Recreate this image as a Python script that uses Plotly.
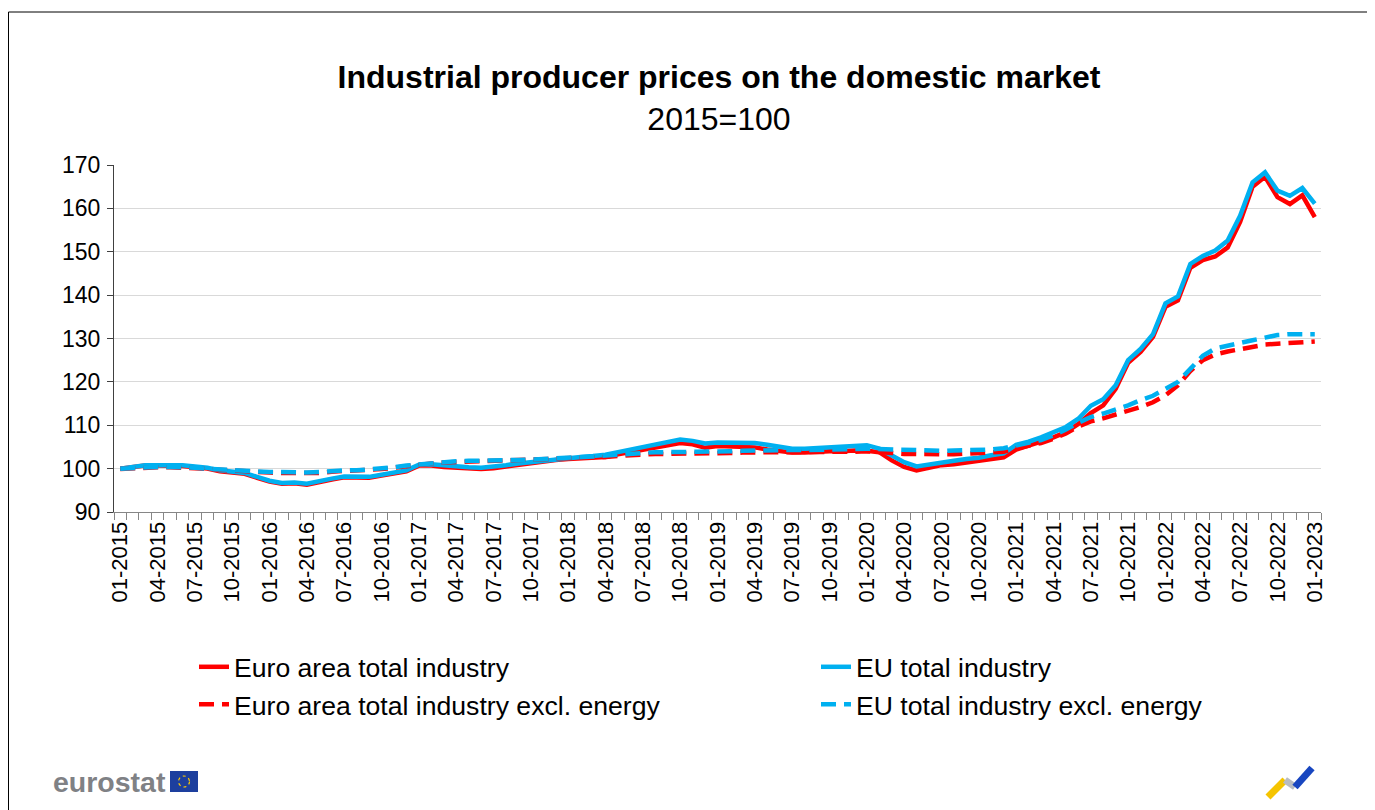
import plotly.graph_objects as go

# ---------------- data ----------------
months = [f"{m:02d}-{y}" for y in range(2015, 2023) for m in range(1, 13)] + ["01-2023"]

ea_total = [100.0, 100.4, 100.7, 100.7, 100.7, 100.6, 100.3, 100.0, 99.4, 99.2, 98.8, 97.9,
            97.0, 96.5, 96.6, 96.3, 97.0, 97.5, 98.0, 97.9, 97.9, 98.4, 98.8, 99.4,
            100.7, 100.7, 100.4, 100.2, 100.0, 99.9, 100.1, 100.5, 100.9, 101.3, 101.7, 102.0,
            102.2, 102.4, 102.5, 102.7, 103.3, 103.8, 104.4, 104.8, 105.4, 105.9, 105.6, 104.8,
            105.2, 105.1, 105.1, 104.9, 104.4, 104.1, 103.7, 103.7, 103.9, 104.0, 104.0, 104.2,
            104.1, 103.8, 101.9, 100.4, 99.6, 100.2, 100.8, 101.0, 101.4, 101.7, 102.0, 102.6,
            104.4, 105.2, 106.2, 107.2, 108.4, 110.3, 112.8, 114.6, 118.4, 124.4, 126.9, 130.4,
            137.3, 138.8, 146.3, 148.1, 148.9, 151.0, 156.9, 165.0, 167.3, 162.6, 161.0, 163.0,
            158.0]

eu_total = [100.0, 100.5, 100.8, 100.8, 100.8, 100.8, 100.5, 100.2, 99.6, 99.4, 99.0, 98.1,
            97.2, 96.7, 96.8, 96.5, 97.2, 97.7, 98.2, 98.1, 98.1, 98.6, 99.0, 99.6,
            100.9, 101.0, 100.8, 100.5, 100.3, 100.2, 100.4, 100.8, 101.2, 101.5, 101.9, 102.3,
            102.5, 102.7, 102.9, 103.2, 103.8, 104.4, 105.0, 105.4, 106.0, 106.7, 106.4, 105.8,
            106.0, 106.0, 105.9, 105.9, 105.5, 105.0, 104.6, 104.6, 104.8, 104.9, 105.0, 105.2,
            105.4, 104.6, 103.1, 101.5, 100.5, 101.0, 101.5, 101.8, 102.2, 102.5, 103.1, 103.5,
            105.5, 106.2, 107.2, 108.3, 109.6, 111.5, 114.5, 116.0, 119.2, 125.0, 127.6, 131.0,
            138.1, 139.7, 147.2, 149.0, 150.3, 152.6, 158.3, 166.0, 168.3, 164.1, 162.9, 164.7,
            161.1]

ea_excl_energy = [99.9, 100.1, 100.2, 100.3, 100.3, 100.3, 100.1, 99.9, 99.7, 99.5, 99.5, 99.3,
                  99.1, 99.0, 99.0, 98.9, 99.0, 99.3, 99.4, 99.5, 99.7, 99.9, 100.2, 100.6,
                  100.9, 101.2, 101.4, 101.5, 101.6, 101.6, 101.6, 101.7, 101.8, 101.9, 102.0, 102.1,
                  102.3, 102.4, 102.5, 102.7, 102.9, 103.1, 103.3, 103.4, 103.4, 103.4, 103.4, 103.4,
                  103.5, 103.6, 103.7, 103.8, 103.8, 103.8, 103.8, 103.8, 103.7, 103.7, 103.8, 103.9,
                  104.0, 103.9, 103.6, 103.4, 103.3, 103.3, 103.3, 103.3, 103.4, 103.5, 103.6, 103.9,
                  104.6, 105.2, 105.9, 106.9, 108.1, 109.7, 110.9, 111.6, 112.4, 113.3, 114.2, 115.3,
                  116.9, 119.2, 122.5, 125.0, 126.3, 127.0, 127.6, 128.1, 128.6, 128.8, 129.0, 129.2,
                  129.3]

eu_excl_energy = [100.0, 100.2, 100.3, 100.4, 100.4, 100.4, 100.2, 100.0, 99.8, 99.6, 99.6, 99.4,
                  99.2, 99.2, 99.1, 99.1, 99.2, 99.5, 99.6, 99.6, 99.8, 100.0, 100.3, 100.7,
                  101.0, 101.3, 101.5, 101.7, 101.8, 101.8, 101.8, 101.9, 102.0, 102.1, 102.2, 102.3,
                  102.5, 102.7, 102.8, 103.0, 103.2, 103.5, 103.7, 103.8, 103.8, 103.8, 103.8, 103.8,
                  103.9, 104.0, 104.1, 104.2, 104.3, 104.3, 104.3, 104.3, 104.3, 104.3, 104.4, 104.5,
                  104.6, 104.5, 104.3, 104.2, 104.1, 104.1, 104.1, 104.2, 104.2, 104.3, 104.4, 104.7,
                  105.3, 105.8, 106.6, 107.7, 109.0, 110.6, 111.9, 112.7, 113.6, 114.6, 115.8, 116.8,
                  118.4, 120.0, 123.0, 126.0, 127.7, 128.4, 129.0, 129.6, 130.2, 130.8, 131.0, 131.0,
                  131.0]

series_names = ["Euro area total industry", "EU total industry",
                "Euro area total industry excl. energy", "EU total industry excl. energy"]
y_ticks = [90, 100, 110, 120, 130, 140, 150, 160, 170]

# ---------------- layout geometry ----------------
# the page body has an 8px margin, so the figure is drawn 8px in from the window edge
OFF = 8
W, H = 1375 - OFF, 810 - OFF
L, R, T, B = 114 - OFF, 54, 165 - OFF, 298
PW, PH = W - L - R, H - T - B
FONT = "Liberation Sans, Arial, sans-serif"
RED = "#FF0000"
BLUE = "#00B0F0"


def px(x):  # window x -> paper x
    return (x - OFF - L) / PW


def py(y):  # window y -> paper y
    return (H - B - (y - OFF)) / PH


x_idx = list(range(len(months)))

fig = go.Figure()
styles = [(ea_total, RED, "solid", "legend"), (eu_total, BLUE, "solid", "legend2"),
          (ea_excl_energy, RED, "15px,8px", "legend"), (eu_excl_energy, BLUE, "15px,8px", "legend2")]
for name, (vals, col, dash, leg) in zip(series_names, styles):
    fig.add_trace(go.Scatter(x=x_idx, y=vals, mode="lines", name=name, legend=leg,
                             line=dict(color=col, width=4.5, dash=dash)))

shapes = [
    # chart border
    dict(type="rect", xref="paper", yref="paper", x0=px(8.5), x1=px(1368), y0=py(840), y1=py(12),
         line=dict(color="#000000", width=1), fillcolor="rgba(0,0,0,0)", layer="below"),
    # EU flag
    dict(type="rect", xref="paper", yref="paper", x0=px(170), x1=px(198), y0=py(792), y1=py(771),
         line=dict(width=0), fillcolor="#1d3f9e"),
    dict(type="circle", xref="paper", yref="paper", x0=px(178.5), x1=px(189.5), y0=py(787), y1=py(776),
         line=dict(color="#FFCC00", width=1.2, dash="dot"), fillcolor="rgba(0,0,0,0)"),
    # right logo strokes
    dict(type="line", xref="paper", yref="paper", x0=px(1268), y0=py(797), x1=px(1285), y1=py(780),
         line=dict(color="#F5C400", width=7)),
    dict(type="line", xref="paper", yref="paper", x0=px(1285), y0=py(780), x1=px(1295), y1=py(787),
         line=dict(color="#B8BCC2", width=7)),
    dict(type="line", xref="paper", yref="paper", x0=px(1295), y0=py(787), x1=px(1312), y1=py(768),
         line=dict(color="#1846C0", width=7)),
]

annotations = [
    dict(text="<b>eurostat</b>", xref="paper", yref="paper", x=px(51), y=py(782),
         xanchor="left", yanchor="middle", showarrow=False,
         font=dict(family=FONT, size=28.5, color="#7f8185")),
]

legend_common = dict(orientation="v", xanchor="left", yanchor="top",
                     font=dict(family=FONT, size=26.6, color="#000000"),
                     traceorder="normal", bgcolor="rgba(0,0,0,0)", itemwidth=30)

fig.update_layout(
    width=W, height=H,
    margin=dict(l=L, r=R, t=T, b=B, autoexpand=False),
    paper_bgcolor="white", plot_bgcolor="white",
    font=dict(family=FONT, color="#000000"),
    title=dict(text="<b>Industrial producer prices on the domestic market</b><br>2015=100",
               x=711 / W, xanchor="center", xref="container",
               y=1 - 80 / H, yanchor="middle", yref="container",
               font=dict(family=FONT, size=32, color="#000000")),
    showlegend=True,
    legend=dict(x=px(194), y=py(643), **legend_common),
    legend2=dict(x=px(816), y=py(643), **legend_common),
    shapes=shapes,
    annotations=annotations,
    xaxis=dict(range=[-0.5, len(months) - 0.5], tickmode="array",
               tickvals=x_idx[::3], ticktext=months[::3], tickangle=-90,
               ticks="", showgrid=False, zeroline=False,
               showline=True, linecolor="#868686", linewidth=1,
               tickfont=dict(family=FONT, size=22, color="#000000"),
               minor=dict(ticks="outside", tick0=-0.5, dtick=1, ticklen=7,
                          tickcolor="#868686", tickwidth=1, showgrid=False),
               automargin=False, fixedrange=True),
    yaxis=dict(range=[90, 170], tickmode="array", tickvals=y_ticks,
               ticks="outside", ticklen=6, tickcolor="#404040",
               showline=True, linecolor="#404040", linewidth=1,
               showgrid=True, gridcolor="#D9D9D9", gridwidth=1.3, zeroline=False,
               tickfont=dict(family=FONT, size=23, color="#000000"),
               ticklabelstandoff=2,
               automargin=False, fixedrange=True),
)

fig.write_html("out.html")
